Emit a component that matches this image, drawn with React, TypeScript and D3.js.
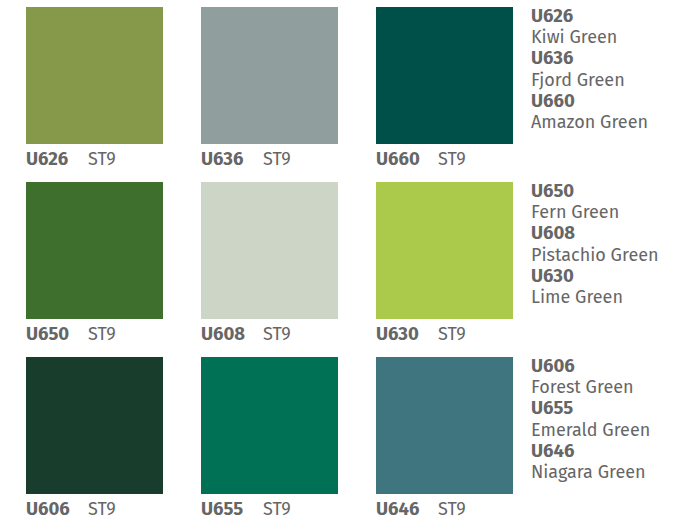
import React from "react";
import * as d3 from "d3";

const codes = ["U626", "U636", "U660", "U650", "U608", "U630", "U606", "U655", "U646"];
const names = ["Kiwi Green", "Fjord Green", "Amazon Green", "Fern Green", "Pistachio Green", "Lime Green", "Forest Green", "Emerald Green", "Niagara Green"];
const colors = ["#86994a", "#909e9d", "#00504a", "#3e6f2d", "#cdd5c6", "#abca4b", "#183d2c", "#007155", "#3f757e"];
const finish = "ST9";

const W = 697, H = 529;
const FONT = "'Fira Sans', 'Open Sans', 'DejaVu Sans', sans-serif";

export default function App() {
  const x = d3.scaleBand<number>().domain([0, 1, 2]).range([26, 513]).paddingInner(38 / 175);
  const y = d3.scaleBand<number>().domain([0, 1, 2]).range([7, 494]).paddingInner(38 / 175);
  const size = x.bandwidth();
  const grey = "#666";
  return (
    <svg width={W} height={H} style={{ position: "absolute", left: 0, top: 0, background: "#fff" }}>
      {codes.map((c, i) => {
        const col = i % 3, row = Math.floor(i / 3);
        const x0 = x(col)!, y0 = y(row)!;
        return (
          <g key={c}>
            <rect x={x0} y={y0} width={size} height={size} fill={colors[i]} />
            <text x={x0} y={y0 + size + 21} fill={grey} fontFamily={FONT} fontSize={18.5} fontWeight="bold">{c}</text>
            <text x={x0 + 62} y={y0 + size + 21} fill={grey} fontFamily={FONT} fontSize={18}>{finish}</text>
          </g>
        );
      })}
      {[0, 1, 2].map((row) => {
        const y0 = y(row)!;
        return (
          <g key={"side" + row}>
            {[0, 1, 2].map((k) => {
              const i = row * 3 + k;
              return (
                <g key={i}>
                  <text x={531} y={y0 + 14.5 + k * 42.5} fill={grey} fontFamily={FONT} fontSize={18.5} fontWeight="bold">{codes[i]}</text>
                  <text x={531} y={y0 + 36 + k * 42.5} fill={grey} fontFamily={FONT} fontSize={18}>{names[i]}</text>
                </g>
              );
            })}
          </g>
        );
      })}
    </svg>
  );
}
